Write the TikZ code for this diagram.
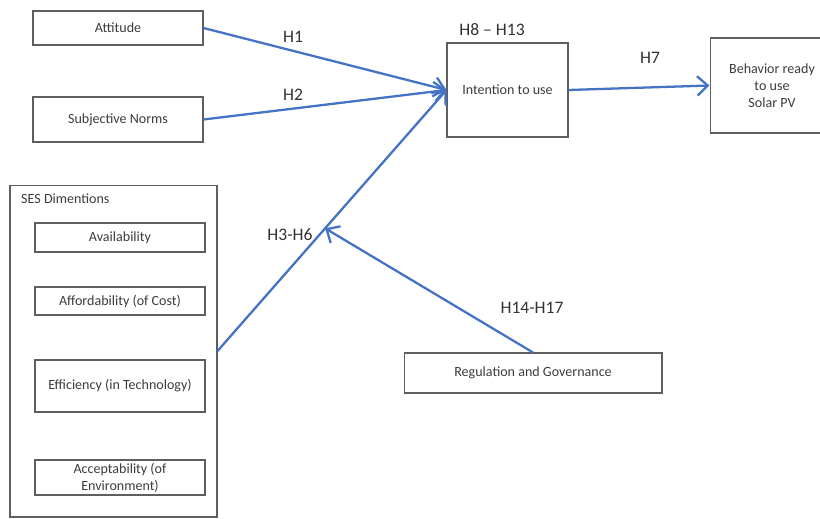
\documentclass[tikz,border=0pt]{standalone}
\usepackage{fontspec}
\setmainfont{Carlito}
\usetikzlibrary{arrows.meta,positioning}
\definecolor{arrblue}{RGB}{68,114,196}
\definecolor{boxgray}{RGB}{95,95,95}
\definecolor{txtgray}{RGB}{60,60,60}

\begin{document}
\begin{tikzpicture}[x=0.02cm,y=-0.02cm,every node/.style={font=\fontsize{8}{9.5}\selectfont,text=txtgray},
  blk/.style={draw=boxgray,line width=.6pt,inner sep=1pt,align=center},
  hlab/.style={font=\fontsize{10}{12}\selectfont,text=black!80},
  conn/.style={draw=arrblue,line width=1.3pt,-{Straight Barb[length=6pt,width=11pt,line width=1.3pt]}}]
\useasboundingbox (0,0) rectangle (820,518);
\clip (0,0) rectangle (820,518);
\node[blk,minimum width=3.4cm,minimum height=0.68cm] (att) at (118,28) {Attitude};
\node[blk,minimum width=3.4cm,minimum height=0.9cm] (subj) at (118,119.5) {Subjective Norms};
\node[blk,minimum width=2.42cm,minimum height=1.88cm] (intent) at (507.5,90) {Intention to use};
\node[blk,minimum width=2.48cm,minimum height=1.9cm] (behav) at (772,85.5) {Behavior ready\\to use\\Solar PV};
\node[blk,minimum width=4.14cm,minimum height=6.64cm] (ses) at (113.5,351) {};
\node[anchor=west] (sestitle) at (15,199) {SES Dimentions};
\node[blk,minimum width=3.4cm,minimum height=0.58cm] (avail) at (120,237.5) {Availability};
\node[blk,minimum width=3.4cm,minimum height=0.56cm] (afford) at (120,301) {Affordability (of Cost)};
\node[blk,minimum width=3.4cm,minimum height=1.04cm] (effic) at (120,386) {Efficiency (in Technology)};
\node[blk,minimum width=3.4cm,minimum height=0.7cm] (accept) at (120,477.5) {Acceptability (of\\Environment)};
\node[blk,minimum width=5.16cm,minimum height=0.8cm] (reg) at (533,373) {Regulation and Governance};
\path (ses.east) -- (intent.west) coordinate[pos=0.47] (mod);
\draw[conn] (att.east) -- (intent.west);
\draw[conn] (subj.east) -- (intent.west);
\draw[conn] (ses.east) -- (intent.west);
\draw[conn] (intent.east) -- (behav.west);
\draw[conn] (reg.north) -- (mod);
\node[hlab] (h1) at (293,37) {H1};
\node[hlab] (h2) at (293,95) {H2};
\node[hlab] (h36) at (290,235) {H3-H6};
\node[hlab] (h7) at (650,58) {H7};
\node[hlab] (h813) at (492,30) {H8 -- H13};
\node[hlab] (h1417) at (532,308) {H14-H17};
\end{tikzpicture}
\end{document}
